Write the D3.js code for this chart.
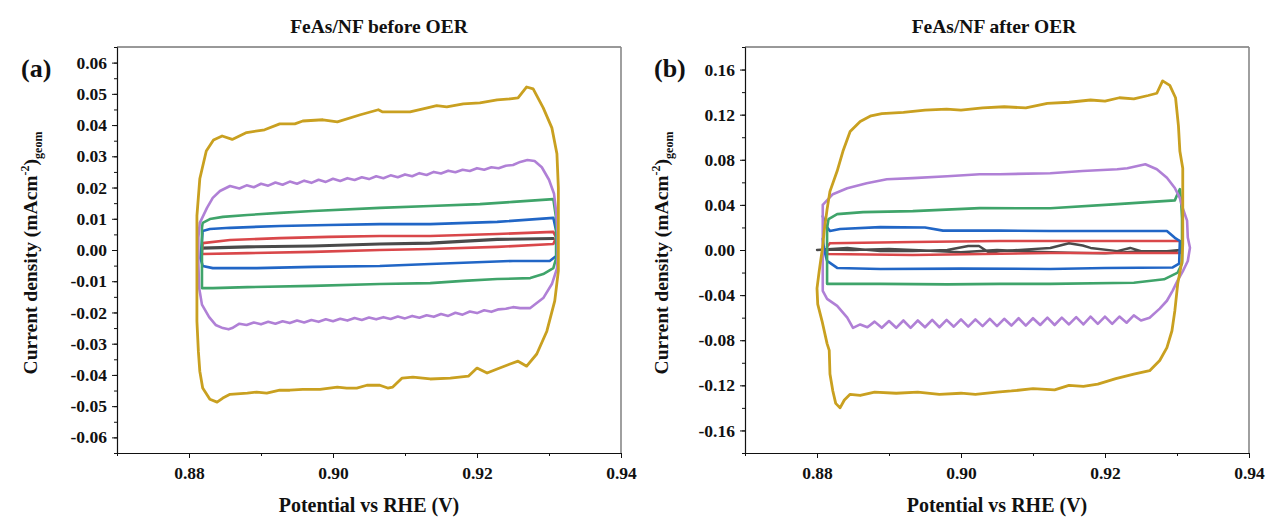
<!DOCTYPE html>
<html><head><meta charset="utf-8">
<script src="https://cdn.jsdelivr.net/npm/d3@7"></script>
<style>
body{margin:0;background:#fff}
svg{display:block}
text{font-family:"Liberation Serif","Times New Roman",serif;font-weight:bold;fill:#111}
</style>
</head><body>
<svg id="chart" width="1266" height="518"></svg>
<script>
// ---------- axis / tick values ----------
const xMajorTicks = [0.88, 0.90, 0.92, 0.94];
const xMinorTicks = [0.87, 0.89, 0.91, 0.93];
const yMajorTicksA = [-0.06,-0.05,-0.04,-0.03,-0.02,-0.01,0,0.01,0.02,0.03,0.04,0.05,0.06];
const yMajorTicksB = [-0.16,-0.12,-0.08,-0.04,0,0.04,0.08,0.12,0.16];
const panelTitles = ["FeAs/NF before OER", "FeAs/NF after OER"];
const panelLetters = ["(a)", "(b)"];
const seriesNames = ["cv1","cv2","cv3","cv4","cv5","cv6"];

// ---------- panel (a): FeAs/NF before OER, [potential V, current density] ----------
const beforeBlack = [[0.8818,0.0007],[0.8881,0.0011],[0.8972,0.0014],[0.9065,0.0020],[0.9135,0.0023],[0.9228,0.0035],[0.9306,0.0038],
  [0.9306,0.0036],[0.9228,0.0033],[0.9135,0.0021],[0.9065,0.0018],[0.8972,0.0012],[0.8881,0.0009],[0.8818,0.0005],[0.8818,0.0007]];
const beforeRed = [[0.8818,-0.0010],[0.8819,0.0022],[0.8857,0.0032],[0.8926,0.0038],[0.8994,0.0042],[0.9065,0.0045],[0.9135,0.0045],[0.9228,0.0051],[0.9306,0.0058],
  [0.9310,0.0040],[0.9306,0.0019],[0.9228,0.0010],[0.9135,0.0003],[0.9065,0.0000],[0.8972,-0.0006],[0.8881,-0.0010],[0.8819,-0.0013],[0.8818,-0.0010]];
const beforeBlue = [[0.8816,-0.0026],[0.8819,0.0061],[0.8829,0.0067],[0.8857,0.0071],[0.8926,0.0077],[0.8994,0.0080],[0.9065,0.0083],[0.9135,0.0083],[0.9228,0.0090],[0.9306,0.0103],
  [0.9310,0.0060],[0.9310,-0.0019],[0.9301,-0.0035],[0.9250,-0.0035],[0.9135,-0.0045],[0.9065,-0.0051],[0.8972,-0.0054],[0.8894,-0.0058],[0.8833,-0.0058],[0.8819,-0.0051],[0.8816,-0.0026]];
const beforeGreen = [[0.8818,-0.0122],[0.8818,0.0071],[0.8819,0.0087],[0.8829,0.0099],[0.8847,0.0106],[0.8881,0.0112],[0.8926,0.0119],[0.8972,0.0125],[0.9065,0.0135],[0.9135,0.0141],[0.9204,0.0147],[0.9250,0.0154],[0.9306,0.0163],
  [0.9310,0.0100],[0.9310,-0.0026],[0.9306,-0.0058],[0.9292,-0.0077],[0.9274,-0.0090],[0.9228,-0.0093],[0.9181,-0.0099],[0.9135,-0.0106],[0.9065,-0.0109],[0.8972,-0.0115],[0.8881,-0.0119],[0.8833,-0.0122],[0.8818,-0.0122]];
const beforePurple = [[0.8815,0.0087],[0.8825,0.0135],[0.8833,0.0167],[0.8843,0.0189],[0.8857,0.0205],
  [0.887,0.0197],[0.888,0.0207],[0.889,0.0201],[0.890,0.0212],[0.891,0.0206],[0.892,0.0216],[0.893,0.0209],[0.894,0.0219],[0.895,0.0212],[0.896,0.0222],[0.897,0.0215],[0.898,0.0225],[0.899,0.0218],[0.900,0.0228],[0.901,0.0221],[0.902,0.0230],[0.903,0.0224],[0.904,0.0233],[0.905,0.0227],[0.906,0.0236],[0.907,0.0230],[0.908,0.0239],[0.909,0.0233],[0.910,0.0242],[0.911,0.0236],[0.912,0.0246],[0.913,0.0240],[0.914,0.0250],[0.915,0.0245],[0.916,0.0254],[0.917,0.0249],[0.918,0.0257],[0.919,0.0253],[0.920,0.0262],[0.921,0.0257],[0.922,0.0265],[0.923,0.0262],[0.924,0.0270],[0.925,0.0272],[0.926,0.0282],[0.927,0.0288],[0.928,0.0285],[0.929,0.0265],[0.930,0.0225],[0.9307,0.0180],[0.9310,0.0120],[0.9312,0.0050],
  [0.9312,-0.0020],[0.9311,-0.0060],[0.9304,-0.0109],[0.9292,-0.0154],[0.9274,-0.0186],[0.926,-0.0186],[0.925,-0.0183],[0.924,-0.0188],
  [0.923,-0.0190],[0.922,-0.0198],[0.921,-0.0193],[0.920,-0.0202],[0.919,-0.0197],[0.918,-0.0207],[0.917,-0.0201],[0.916,-0.0211],[0.915,-0.0205],[0.914,-0.0214],[0.913,-0.0209],[0.912,-0.0217],[0.911,-0.0211],[0.910,-0.0219],[0.909,-0.0213],[0.908,-0.0221],[0.907,-0.0215],[0.906,-0.0222],[0.905,-0.0216],[0.904,-0.0224],[0.903,-0.0218],[0.902,-0.0226],[0.901,-0.0220],[0.900,-0.0228],[0.899,-0.0222],[0.898,-0.0230],[0.897,-0.0224],[0.896,-0.0232],[0.895,-0.0226],[0.894,-0.0234],[0.893,-0.0228],[0.892,-0.0236],[0.891,-0.0230],[0.890,-0.0238],[0.889,-0.0232],[0.888,-0.0240],[0.887,-0.0236],[0.886,-0.0250],[0.8855,-0.0254],[0.8847,-0.0250],[0.8837,-0.0240],[0.8828,-0.0215],[0.8818,-0.0175],[0.8814,-0.0120],[0.8813,-0.0040],[0.8813,0.0040],[0.8815,0.0087]];
const beforeGold = [[0.8811,0.0109],[0.8815,0.0228],[0.8824,0.0317],[0.8834,0.0352],[0.8846,0.0365],[0.8860,0.0354],[0.8880,0.0376],[0.8905,0.0385],[0.8926,0.0404],[0.8947,0.0404],[0.8958,0.0413],[0.8986,0.0417],[0.9006,0.0410],[0.9038,0.0433],[0.9063,0.0449],[0.9069,0.0442],[0.9107,0.0442],[0.9131,0.0455],[0.9144,0.0462],
  [0.9158,0.0458],[0.9181,0.0468],[0.9204,0.0471],[0.9228,0.0481],[0.9246,0.0484],[0.9257,0.0487],[0.9269,0.0522],[0.9278,0.0516],[0.9292,0.0455],[0.9304,0.0391],[0.9311,0.0308],[0.9313,0.0199],[0.9313,0.0038],
  [0.9313,-0.0067],[0.9308,-0.0163],[0.9297,-0.0260],[0.9283,-0.0333],[0.9269,-0.0372],[0.9257,-0.0356],[0.9246,-0.0365],[0.9228,-0.0381],[0.9214,-0.0394],[0.9200,-0.0378],[0.9188,-0.0404],[0.9163,-0.0410],[0.9135,-0.0413],
  [0.9111,-0.0407],[0.9096,-0.0410],[0.9083,-0.0439],[0.9076,-0.0442],[0.9065,-0.0433],[0.9047,-0.0433],[0.9033,-0.0442],[0.9019,-0.0442],[0.9006,-0.0439],[0.8982,-0.0446],[0.8958,-0.0446],[0.8940,-0.0449],[0.8926,-0.0449],[0.8908,-0.0458],[0.8894,-0.0455],[0.8881,-0.0458],[0.8857,-0.0462],[0.8847,-0.0474],[0.8839,-0.0487],[0.8829,-0.0478],[0.8819,-0.0442],[0.8815,-0.0388],[0.8813,-0.0324],[0.8811,-0.0228],[0.8811,-0.0163],[0.8811,0.0109]];

// ---------- panel (b): FeAs/NF after OER ----------
const afterBlack = [[0.8800,0.0000],[0.8842,0.0018],[0.8888,-0.0010],[0.8933,-0.0010],[0.8981,0.0000],[0.9010,0.0035],[0.9025,0.0035],[0.9040,-0.0027],[0.9054,-0.0010],[0.9124,0.0018],[0.9150,0.0060],[0.9169,0.0040],[0.9180,0.0018],[0.9217,-0.0010],[0.9235,0.0018],[0.9250,-0.0010],[0.9286,-0.0010],[0.9304,0.0000],
  [0.9286,-0.0025],[0.9240,-0.0015],[0.9200,-0.0030],[0.9150,-0.0025],[0.9100,-0.0015],[0.9050,0.0000],[0.9000,-0.0020],[0.8950,-0.0005],[0.8900,0.0010],[0.8850,0.0000],[0.8810,0.0005]];
const afterRed = [[0.8818,0.0060],[0.8933,0.0071],[0.9054,0.0080],[0.9124,0.0080],[0.9304,0.0080],[0.9306,0.0030],[0.9304,-0.0027],[0.9124,-0.0027],[0.8933,-0.0044],[0.8814,-0.0035],[0.8814,0.0030],[0.8818,0.0060]];
const afterBlue = [[0.8808,0.0300],[0.8812,0.0220],[0.8818,0.0168],[0.8832,0.0186],[0.8888,0.0203],[0.8950,0.0200],[0.8975,0.0172],[0.9054,0.0172],[0.9124,0.0168],[0.9286,0.0168],[0.9297,0.0108],[0.9304,0.0080],
  [0.9303,-0.0120],[0.9294,-0.0155],[0.9200,-0.0160],[0.9124,-0.0168],[0.9000,-0.0165],[0.8888,-0.0168],[0.8828,-0.0159],[0.8814,-0.0097],[0.8810,0.0000],[0.8808,0.0100]];
const afterGreen = [[0.8814,-0.0300],[0.8814,0.0195],[0.8816,0.0274],[0.8828,0.0318],[0.8864,0.0336],[0.8933,0.0345],[0.9026,0.0371],[0.9124,0.0370],[0.9217,0.0407],[0.9297,0.0440],[0.9301,0.0500],[0.9304,0.0540],
  [0.9306,0.0400],[0.9307,0.0280],[0.9307,0.0000],[0.9307,-0.0120],[0.9301,-0.0200],[0.9282,-0.0260],[0.9240,-0.0290],[0.9124,-0.0300],[0.9054,-0.0300],[0.8981,-0.0305],[0.8888,-0.0300],[0.8814,-0.0300]];
const afterPurple = [[0.8808,0.0400],[0.8822,0.0495],[0.8842,0.0548],[0.8869,0.0592],[0.8897,0.0628],[0.8933,0.0637],[0.8981,0.0654],[0.9026,0.0672],[0.9054,0.0672],[0.9124,0.0680],[0.9169,0.0700],[0.9217,0.0716],[0.9231,0.0725],[0.9256,0.0760],[0.9272,0.0716],[0.9286,0.0640],[0.9297,0.0550],[0.9304,0.0460],[0.9308,0.0370],[0.9314,0.0260],[0.9315,0.0110],[0.9318,0.0020],[0.9315,-0.0097],[0.9308,-0.0190],[0.9301,-0.0270],[0.9294,-0.0360],[0.9286,-0.0450],[0.9276,-0.0520],[0.9262,-0.0600],
  [0.925,-0.0625],[0.924,-0.0580],[0.923,-0.0645],[0.922,-0.0590],[0.921,-0.0655],[0.920,-0.0590],[0.919,-0.0655],[0.918,-0.0590],[0.917,-0.0660],[0.916,-0.0595],[0.915,-0.0660],[0.914,-0.0600],[0.913,-0.0665],[0.912,-0.0600],[0.911,-0.0665],[0.910,-0.0605],[0.909,-0.0670],[0.908,-0.0605],[0.907,-0.0670],[0.906,-0.0610],[0.905,-0.0675],[0.904,-0.0610],[0.903,-0.0675],[0.902,-0.0615],[0.901,-0.0680],[0.900,-0.0615],[0.899,-0.0680],[0.898,-0.0620],[0.897,-0.0685],[0.896,-0.0620],[0.895,-0.0685],[0.894,-0.0625],[0.893,-0.0690],[0.892,-0.0625],[0.891,-0.0690],[0.890,-0.0630],[0.889,-0.0690],[0.888,-0.0635],[0.887,-0.0685],[0.886,-0.0660],[0.885,-0.0690],[0.8842,-0.0600],[0.8828,-0.0495],[0.8814,-0.0433],[0.8808,-0.0362],[0.8808,-0.0100],[0.8808,0.0400]];
const afterGold = [[0.8808,0.0035],[0.8810,0.0170],[0.8814,0.0360],[0.8818,0.0520],[0.8828,0.0700],[0.8836,0.0875],[0.8846,0.1050],[0.8860,0.1140],[0.8875,0.1190],[0.8890,0.1210],[0.8920,0.1220],[0.8950,0.1240],[0.8980,0.1250],[0.9000,0.1240],[0.9030,0.1260],[0.9060,0.1270],[0.9090,0.1260],[0.9120,0.1300],[0.9150,0.1310],[0.9180,0.1330],[0.9200,0.1320],[0.9220,0.1350],[0.9240,0.1340],[0.9260,0.1370],[0.9272,0.1390],[0.9280,0.1500],[0.9290,0.1460],[0.9298,0.1350],[0.9302,0.1100],[0.9304,0.0875],[0.9308,0.0725],[0.9308,0.0433],[0.9308,0.0053],
  [0.9307,-0.0097],[0.9301,-0.0300],[0.9297,-0.0540],[0.9293,-0.0716],[0.9286,-0.0866],[0.9276,-0.0980],[0.9262,-0.1070],[0.9240,-0.1100],[0.9215,-0.1140],[0.9190,-0.1190],[0.9170,-0.1210],[0.9150,-0.1200],[0.9130,-0.1240],[0.9100,-0.1230],[0.9070,-0.1250],[0.9050,-0.1260],[0.9020,-0.1280],[0.9000,-0.1270],[0.8970,-0.1280],[0.8940,-0.1260],[0.8910,-0.1270],[0.8880,-0.1260],[0.8860,-0.1290],[0.8846,-0.1280],[0.8838,-0.1330],[0.8832,-0.1400],[0.8826,-0.1360],[0.8822,-0.1250],[0.8818,-0.1100],[0.8817,-0.0890],[0.8814,-0.0830],[0.8807,-0.0630],[0.8801,-0.0480],[0.8800,-0.0340],[0.8803,-0.0190],[0.8808,0.0035]];

// ---------- styles ----------
const seriesColors = ["#4a4a4a","#d9474a","#2166c6","#3fa46a","#b080d6","#c9a020"];
const seriesWidths = [2.4,2.6,2.6,2.6,2.6,2.8];

const svg = d3.select("#chart");
const fmt = d => d.toFixed(2);

const panels = [
  {left:117, right:621, yDomain:[-0.065,0.065], yMajor:yMajorTicksA, yMinorStep:0.005,
   data:[beforeBlack,beforeRed,beforeBlue,beforeGreen,beforePurple,beforeGold],
   title:panelTitles[0], titleX:379, letter:panelLetters[0], letterX:21, ylabX:37, xlabX:369},
  {left:745, right:1249, yDomain:[-0.18,0.18], yMajor:yMajorTicksB, yMinorStep:0.02,
   data:[afterBlack,afterRed,afterBlue,afterGreen,afterPurple,afterGold],
   title:panelTitles[1], titleX:994, letter:panelLetters[1], letterX:654, ylabX:668, xlabX:997}
];

const plotTop = 47, plotBottom = 453;

panels.forEach(p => {
  const x = d3.scaleLinear().domain([0.87, 0.94]).range([p.left, p.right]);
  const y = d3.scaleLinear().domain(p.yDomain).range([plotBottom, plotTop]);
  const g = svg.append("g");

  // frame
  g.append("line").attr("x1", p.left).attr("x2", p.right).attr("y1", plotTop).attr("y2", plotTop)
    .attr("stroke", "#333").attr("stroke-width", 1);
  g.append("line").attr("x1", p.right).attr("x2", p.right).attr("y1", plotTop).attr("y2", plotBottom)
    .attr("stroke", "#888").attr("stroke-width", 1.6);

  // curves
  const line = d3.line().x(d => x(d[0])).y(d => y(d[1]));
  p.data.forEach((s, i) => {
    g.append("path").datum(s).attr("class", seriesNames[i])
      .attr("d", line).attr("fill", "none")
      .attr("stroke", seriesColors[i]).attr("stroke-width", seriesWidths[i])
      .attr("stroke-linejoin", "round").attr("stroke-linecap", "round");
  });

  // y axis
  const nMinor = Math.round((p.yDomain[1] - p.yDomain[0]) / p.yMinorStep);
  const yMinor = d3.range(-Math.floor(nMinor/2), Math.floor(nMinor/2) + 1).map(i => i * p.yMinorStep)
    .filter(v => v >= p.yDomain[0] && v <= p.yDomain[1]);
  g.append("g").attr("transform", `translate(${p.left},0)`)
    .call(d3.axisLeft(y).tickValues(p.yMajor).tickFormat(fmt).tickSize(5).tickSizeOuter(0).tickPadding(5));
  g.append("g").attr("transform", `translate(${p.left},0)`)
    .call(d3.axisLeft(y).tickValues(yMinor).tickFormat("").tickSize(3).tickSizeOuter(0));

  // x axis
  g.append("g").attr("transform", `translate(0,${plotBottom})`)
    .call(d3.axisBottom(x).tickValues(xMajorTicks).tickFormat(fmt).tickSize(5).tickSizeOuter(0).tickPadding(9));
  g.append("g").attr("transform", `translate(0,${plotBottom})`)
    .call(d3.axisBottom(x).tickValues(xMinorTicks).tickFormat("").tickSize(3).tickSizeOuter(0));

  g.selectAll(".domain").attr("stroke", "#111").attr("stroke-width", 1.1);
  g.selectAll(".tick line").attr("stroke", "#111");
  g.selectAll(".tick text").attr("font-family", "Liberation Serif").attr("font-weight", "bold")
    .attr("font-size", 17.5).attr("fill", "#111");

  // title
  g.append("text").attr("x", p.titleX).attr("y", 33).attr("text-anchor", "middle")
    .attr("font-size", 19.5).text(p.title);
  // letter
  g.append("text").attr("x", p.letterX).attr("y", 77).attr("font-size", 26).text(p.letter);
  // x label
  g.append("text").attr("x", p.xlabX).attr("y", 512).attr("text-anchor", "middle")
    .attr("font-size", 20).text("Potential vs RHE (V)");
  // y label
  const yl = g.append("text").attr("transform", `translate(${p.ylabX},253) rotate(-90)`)
    .attr("text-anchor", "middle").attr("font-size", 19.5);
  yl.append("tspan").text("Current density (mAcm");
  yl.append("tspan").attr("dy", -8).attr("font-size", 12).text("-2");
  yl.append("tspan").attr("dy", 8).text(")");
  yl.append("tspan").attr("dy", 5).attr("font-size", 12).text("geom");
});
</script>
</body></html>
